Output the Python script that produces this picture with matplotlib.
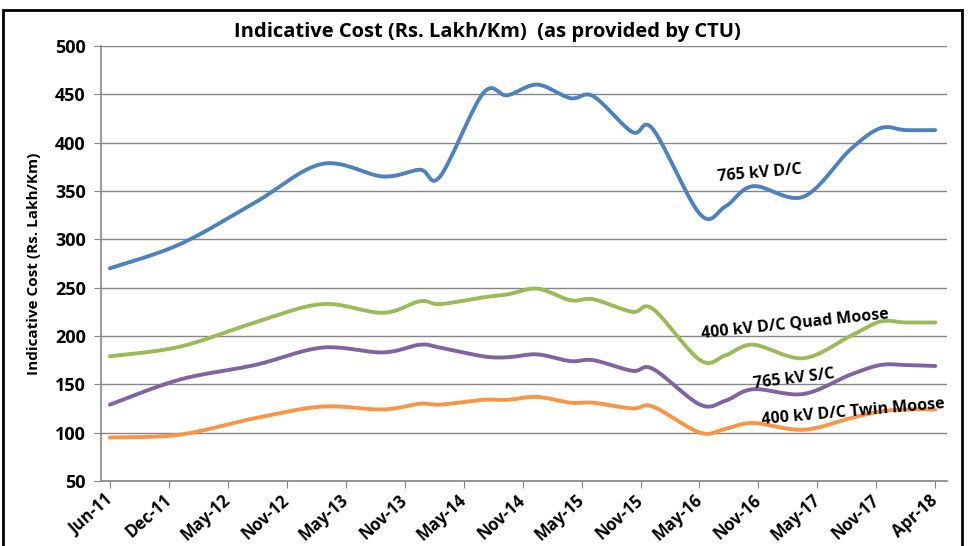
import numpy as np
import matplotlib
matplotlib.use("Agg")
import matplotlib.pyplot as plt
from matplotlib.patches import Rectangle

# category tick labels (one per axis tick)
months = ["Jun-11", "Dec-11", "May-12", "Nov-12", "May-13", "Nov-13", "May-14",
          "Nov-14", "May-15", "Nov-15", "May-16", "Nov-16", "May-17", "Nov-17", "Apr-18"]

# position of each reading, in units of the tick spacing
pos = [0, 1.19, 2.46, 3.60, 4.63, 5.26, 5.60, 6.33, 6.74, 7.25, 7.81,
       8.20, 8.86, 9.21, 10.01, 10.44, 10.91, 11.76, 12.56, 13.07, 13.49, 14.0]

dc_765 = [270, 295, 338, 378, 365, 372, 365, 451, 449, 460, 446,
          448, 411, 414, 326, 334, 355, 344, 393, 415, 413, 413]
quad_400 = [179, 189, 214, 233, 224, 236, 233, 240, 243, 249, 237,
            238, 225, 228, 175, 180, 191, 177, 200, 215, 214, 214]
sc_765 = [129, 155, 170, 188, 183, 191, 188, 179, 178, 181, 174,
          175, 164, 166, 129, 133, 145, 140, 160, 170, 170, 169]
twin_400 = [95, 98, 115, 127, 124, 130, 129, 134, 134, 137, 131,
            131, 125, 127, 100, 104, 110, 103, 115, 122, 124, 124]


def smooth(x, y, n=20):
    # Catmull-Rom curve through the points, like Excel's "smoothed line"
    x = np.asarray(x, float)
    y = np.asarray(y, float)
    px = np.concatenate([[x[0]], x, [x[-1]]])
    py = np.concatenate([[y[0]], y, [y[-1]]])
    xs, ys = [], []
    t = np.linspace(0, 1, n, endpoint=False)
    for i in range(1, len(px) - 2):
        p0, p1, p2, p3 = [np.array([px[j], py[j]]) for j in (i - 1, i, i + 1, i + 2)]
        b1 = p1 + (p2 - p0) / 6
        b2 = p2 - (p3 - p1) / 6
        pts = (np.outer((1 - t) ** 3, p1) + np.outer(3 * (1 - t) ** 2 * t, b1)
               + np.outer(3 * (1 - t) * t ** 2, b2) + np.outer(t ** 3, p2))
        xs.extend(pts[:, 0])
        ys.extend(pts[:, 1])
    xs.append(x[-1])
    ys.append(y[-1])
    return xs, ys


plt.rcParams["font.family"] = ["Open Sans", "DejaVu Sans"]
plt.rcParams["font.weight"] = "bold"

fig = plt.figure(figsize=(9.77, 5.46), dpi=100)
ax = fig.add_axes([0.1034, 0.119, 0.866, 0.7968])

series = [
    (dc_765, "#4F81BD"),
    (quad_400, "#9BBB59"),
    (sc_765, "#8064A2"),
    (twin_400, "#F79646"),
]
for vals, col in series:
    xs, ys = smooth(pos, vals)
    ax.plot(xs, ys, color=col, lw=2.8, solid_capstyle="round", zorder=3)

ax.set_ylim(50, 500)
ax.set_yticks(range(50, 501, 50))
ax.set_xlim(-0.15, 14.2)
ax.set_xticks(range(len(months)))
ax.set_xticklabels(months, rotation=42, ha="right", va="center",
                   rotation_mode="anchor", fontsize=12, fontweight="bold")
ax.tick_params(axis="x", pad=7, length=5, color="#868686")
ax.tick_params(axis="y", labelsize=13, length=5, color="#868686", pad=6)
for lab in ax.get_yticklabels():
    lab.set_fontweight("bold")
ax.grid(axis="y", color="#868686", lw=1)
for s in ["top", "right"]:
    ax.spines[s].set_visible(False)
for s in ["left", "bottom"]:
    ax.spines[s].set_color("#868686")
    ax.spines[s].set_linewidth(1.2)

ax.set_ylabel("Indicative Cost (Rs. Lakh/Km)", fontsize=11, fontweight="bold", labelpad=10)
fig.text(0.499, 0.942, "Indicative Cost (Rs. Lakh/Km)  (as provided by CTU)",
         ha="center", va="center", fontsize=14.5, fontweight="bold")

# in-line series labels
ax.text(11.03, 368, "765 kV D/C", fontsize=11.5, fontweight="bold", rotation=5,
        ha="center", va="center")
ax.text(11.62, 213, "400 kV D/C Quad Moose", fontsize=11.5, fontweight="bold", rotation=6,
        ha="center", va="center")
ax.text(11.6, 155, "765 kV S/C", fontsize=11.5, fontweight="bold", rotation=7,
        ha="center", va="center")
ax.text(12.6, 121, "400 kV D/C Twin Moose", fontsize=11.5, fontweight="bold", rotation=5,
        ha="center", va="center")

# outer frame
fig.patches.append(Rectangle((3 / 977, -0.05), 959 / 977, 1.05 - 10 / 546,
                             transform=fig.transFigure, fill=False,
                             edgecolor="black", lw=2))

fig.savefig("out.png", dpi=100)
